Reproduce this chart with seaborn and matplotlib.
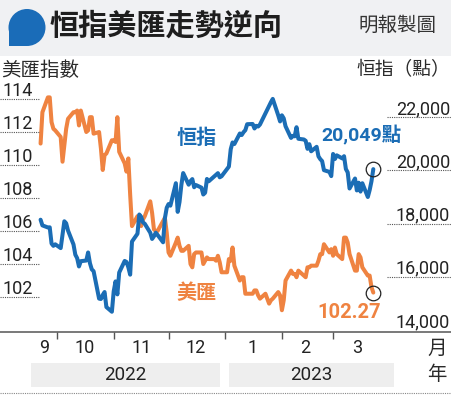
import pandas as pd
import numpy as np
import matplotlib
matplotlib.use('Agg')
import matplotlib.pyplot as plt
import seaborn as sns
from matplotlib.patches import Rectangle, Ellipse
from matplotlib.lines import Line2D
from matplotlib.transforms import blended_transform_factory, offset_copy

# ---------------- data ----------------
hk_holidays = ['2022-10-04', '2022-12-26', '2022-12-27', '2023-01-02',
               '2023-01-23', '2023-01-24', '2023-01-25']

# 恒指 收市 (HK trading days)
hsi_values = [
    18147, 17933, 17855, 17860, 17250, 17165, 17223,
    17079, 18088, 18012, 17740, 17217, 16832, 16701, 16389, 16588, 16612,
    16915, 16511, 16280, 16211, 15180, 15165, 15318, 15428, 14863, 14687,
    15455, 15827, 15339, 16161, 16596, 16557, 16359, 16081, 17326, 17620,
    18343, 18256, 18046, 17993, 17656, 17424, 17523, 17661, 17574, 17298,
    18204, 18597,
    18736, 18675, 19519, 18442, 18815, 19450, 19901, 19464, 19597, 19674,
    19368, 19451, 19353, 19095, 19160, 19679, 19593, 19898, 19741, 19781,
    20145, 20793, 21052, 20992, 21389, 21331, 21437, 21514, 21738, 21746,
    21578, 21678, 21651, 21726, 22566, 22689, 22070, 21842,
    22072, 21958, 21660, 21222, 21299, 21283, 21624, 21190, 21164, 21114,
    20812, 20987, 20719, 20887, 20530, 20424, 20351, 20010, 19944, 19786,
    20620, 20429, 20568, 20453, 20535, 20052, 19926, 19320, 19696, 19248,
    19539, 19204, 19519, 19001, 19259, 19592, 20049,
]

# 美匯指數 (all weekdays)
usd_values = [
    111.3, 113.2, 114.1, 114.1, 112.6, 112.2, 112.1,
    111.7, 110.2, 111.2, 112.2, 112.8, 113.2, 113.2, 113.3, 112.4, 113.3,
    112.0, 112.1, 112.9, 112.9, 111.9, 112.0, 111.0, 109.7, 110.6, 110.7,
    111.5,
    111.5, 111.4, 112.9, 110.8, 110.1, 109.6, 110.4, 108.2, 106.3, 106.9,
    106.4, 106.3, 106.7, 106.9, 107.8, 107.1, 106.1, 106.0, 106.0, 106.6,
    106.8, 105.9,
    104.7, 104.5, 105.3, 105.6, 105.1, 104.8, 104.8, 105.1, 104.0, 103.8,
    104.6, 104.7, 104.7, 104.0, 104.2, 104.4, 104.3, 104.3, 104.2, 104.5,
    104.1, 103.5,
    103.5, 104.3, 104.2, 105.0, 103.9, 103.0, 103.2, 103.2, 102.2, 102.2,
    102.2, 102.4, 102.4, 102.1, 101.9, 102.2, 101.9, 101.6, 101.8, 101.9,
    102.3, 102.1,
    101.2, 101.8, 103.0, 103.6, 103.4, 103.4, 103.2, 103.6, 103.3, 103.2,
    103.8, 103.8, 103.9, 103.9, 104.2, 104.6, 104.6, 105.2, 104.7, 104.9,
    104.5, 105.0, 104.6, 104.3, 105.6, 105.6, 105.3, 104.6, 103.6, 103.6,
    104.6, 104.4, 103.8, 103.3, 103.3, 102.6, 102.27,
]

usd_dates = pd.bdate_range('2022-09-22', '2023-03-23')
hsi_dates = usd_dates[~usd_dates.isin(pd.to_datetime(hk_holidays))]

hsi = pd.DataFrame({'date': hsi_dates, 'value': hsi_values})
usd = pd.DataFrame({'date': usd_dates, 'value': usd_values})

left_ticks = [102, 104, 106, 108, 110, 112, 114]
right_ticks = [14000, 16000, 18000, 20000, 22000]
month_starts = ['2022-10-01', '2022-11-01', '2022-12-01', '2023-01-01', '2023-02-01', '2023-03-01']
month_labels = ['9', '10', '11', '12', '1', '2', '3']
month_label_dates = ['2022-09-24', '2022-10-16', '2022-11-16', '2022-12-16',
                     '2023-01-16', '2023-02-14', '2023-03-14']
years = ['2022', '2023']

BLUE = '#1b6db5'
ORANGE = '#ef8341'
DARK = '#222222'
CJK = 'Noto Sans CJK TC'

sns.set_style('white')
plt.rcParams['font.family'] = ['Roboto', CJK, 'DejaVu Sans']

W, H = 451, 395
def fx(x): return x / W
def fy(y): return 1 - y / H

fig = plt.figure(figsize=(W / 100, H / 100), dpi=100)

# title bar
fig.patches.append(Rectangle((0, fy(56)), 1, 56 / H, transform=fig.transFigure,
                             facecolor='#f0f1f3', edgecolor='none', zorder=0))
fig.patches.append(Ellipse((fx(27), fy(27.5)), 37 / W, 37 / H, transform=fig.transFigure,
                           facecolor='#1a6cb8', edgecolor='none'))
fig.patches.append(Rectangle((fx(8.5), fy(46)), 18.5 / W, 18.5 / H, transform=fig.transFigure,
                             facecolor='#1a6cb8', edgecolor='none'))
fig.text(fx(50), fy(26), '恒指美匯走勢逆向', family=[CJK], weight='black',
         fontsize=21, color='#1e1e1e', ha='left', va='center')
fig.text(fx(437), fy(25), '明報製圖', family=[CJK], fontsize=14,
         color='#333333', ha='right', va='center')

# axis titles
fig.text(fx(1), fy(71), '美匯指數', family=[CJK], fontsize=14, weight='light',
         color='#2a2a2a', ha='left', va='center')
fig.text(fx(450), fy(70), '恒指（點）', family=[CJK], fontsize=13.5, weight='light',
         color='#2a2a2a', ha='right', va='center')

# ---------------- axes ----------------
ax = fig.add_axes([0, fy(332), 1, 247 / H])
ax2 = ax.twinx()

sns.lineplot(data=usd, x='date', y='value', ax=ax, color=ORANGE, lw=2.9)
sns.lineplot(data=hsi, x='date', y='value', ax=ax2, color=BLUE, lw=2.9)

x0 = pd.Timestamp('2022-09-01') - pd.Timedelta(days=1.2)
ax.set_xlim(x0, x0 + pd.Timedelta(days=246.7))
ax.set_ylim(99.88, 114.85)
ax2.set_ylim(13925, 23212)

# last-value circles
ax.plot(usd['date'].iloc[-1], usd['value'].iloc[-1], 'o', ms=10.5, mfc='none', mec=DARK, mew=0.9)
ax2.plot(hsi['date'].iloc[-1], hsi['value'].iloc[-1], 'o', ms=10.5, mfc='none', mec=DARK, mew=0.9)

for a in (ax, ax2):
    a.set_xlabel('')
    a.set_ylabel('')
    a.set_yticks([])
    for s in ('top', 'left', 'right'):
        a.spines[s].set_visible(False)
    a.patch.set_alpha(0)
ax2.spines['bottom'].set_visible(False)
ax.spines['bottom'].set_color('#555555')
ax.spines['bottom'].set_linewidth(1.1)
ax.set_xticks(pd.to_datetime(month_starts))
ax.set_xticklabels([])
ax.tick_params(axis='x', direction='out', length=5, width=1, color='#555555', bottom=True)
ax2.tick_params(axis='x', bottom=False)

# y labels with dotted stubs
tl = offset_copy(blended_transform_factory(fig.transFigure, ax.transData), fig=fig, x=0, y=3, units='dots')
for v in left_ticks:
    ax.axhline(v, xmin=0, xmax=fx(40), ls=(0, (1, 1)), color='#555555', lw=0.8)
    ax.text(fx(2), v, str(v), transform=tl, ha='left', va='baseline', fontsize=13,
            color=DARK)
tr = offset_copy(blended_transform_factory(fig.transFigure, ax2.transData), fig=fig, x=0, y=3, units='dots')
for v in right_ticks:
    if v > right_ticks[0]:
        ax2.axhline(v, xmin=fx(387), xmax=1, ls=(0, (1, 1)), color='#555555', lw=0.8)
    ax2.text(fx(450), v, f'{v:,}', transform=tr, ha='right', va='baseline', fontsize=13,
             color=DARK)

# month labels
tm = blended_transform_factory(ax.transData, fig.transFigure)
for d, lab in zip(month_label_dates, month_labels):
    ax.text(pd.Timestamp(d), fy(348), lab, transform=tm, ha='center', va='center',
            fontsize=13, color=DARK)
fig.text(fx(437), fy(348), '月', family=[CJK], fontsize=14, weight='light',
         color='#2a2a2a', ha='center', va='center')
fig.text(fx(437), fy(375), '年', family=[CJK], fontsize=14, weight='light',
         color='#2a2a2a', ha='center', va='center')

# year bands
for (a, b), yr in zip([(31, 220), (229, 394)], years):
    fig.patches.append(Rectangle((fx(a), fy(387)), (b - a) / W, 24 / H, transform=fig.transFigure,
                                 facecolor='#eeeeee', edgecolor='none', zorder=0))
    fig.text(fx((a + b) / 2), fy(375), yr, fontsize=13.5, color=DARK,
             ha='center', va='center')

fig.lines.append(Line2D([0, 1], [fy(393), fy(393)], transform=fig.transFigure,
                        ls=(0, (1, 1)), color='#888888', lw=0.8))

# series labels
fig.text(fx(197), fy(138), '恒指', family=[CJK], weight='bold', fontsize=14.5,
         color=BLUE, ha='center', va='center')
fig.text(fx(197), fy(292), '美匯', family=[CJK], weight='bold', fontsize=14.5,
         color=ORANGE, ha='center', va='center')
fig.text(fx(362), fy(135), f'{hsi_values[-1]:,}點', family=['Roboto', CJK], weight='bold',
         fontsize=14, color=BLUE, ha='center', va='center')
fig.text(fx(349), fy(312), f'{usd_values[-1]:.2f}', weight='bold', fontsize=14.5,
         color=ORANGE, ha='center', va='center')

fig.savefig('out.png', dpi=100)
